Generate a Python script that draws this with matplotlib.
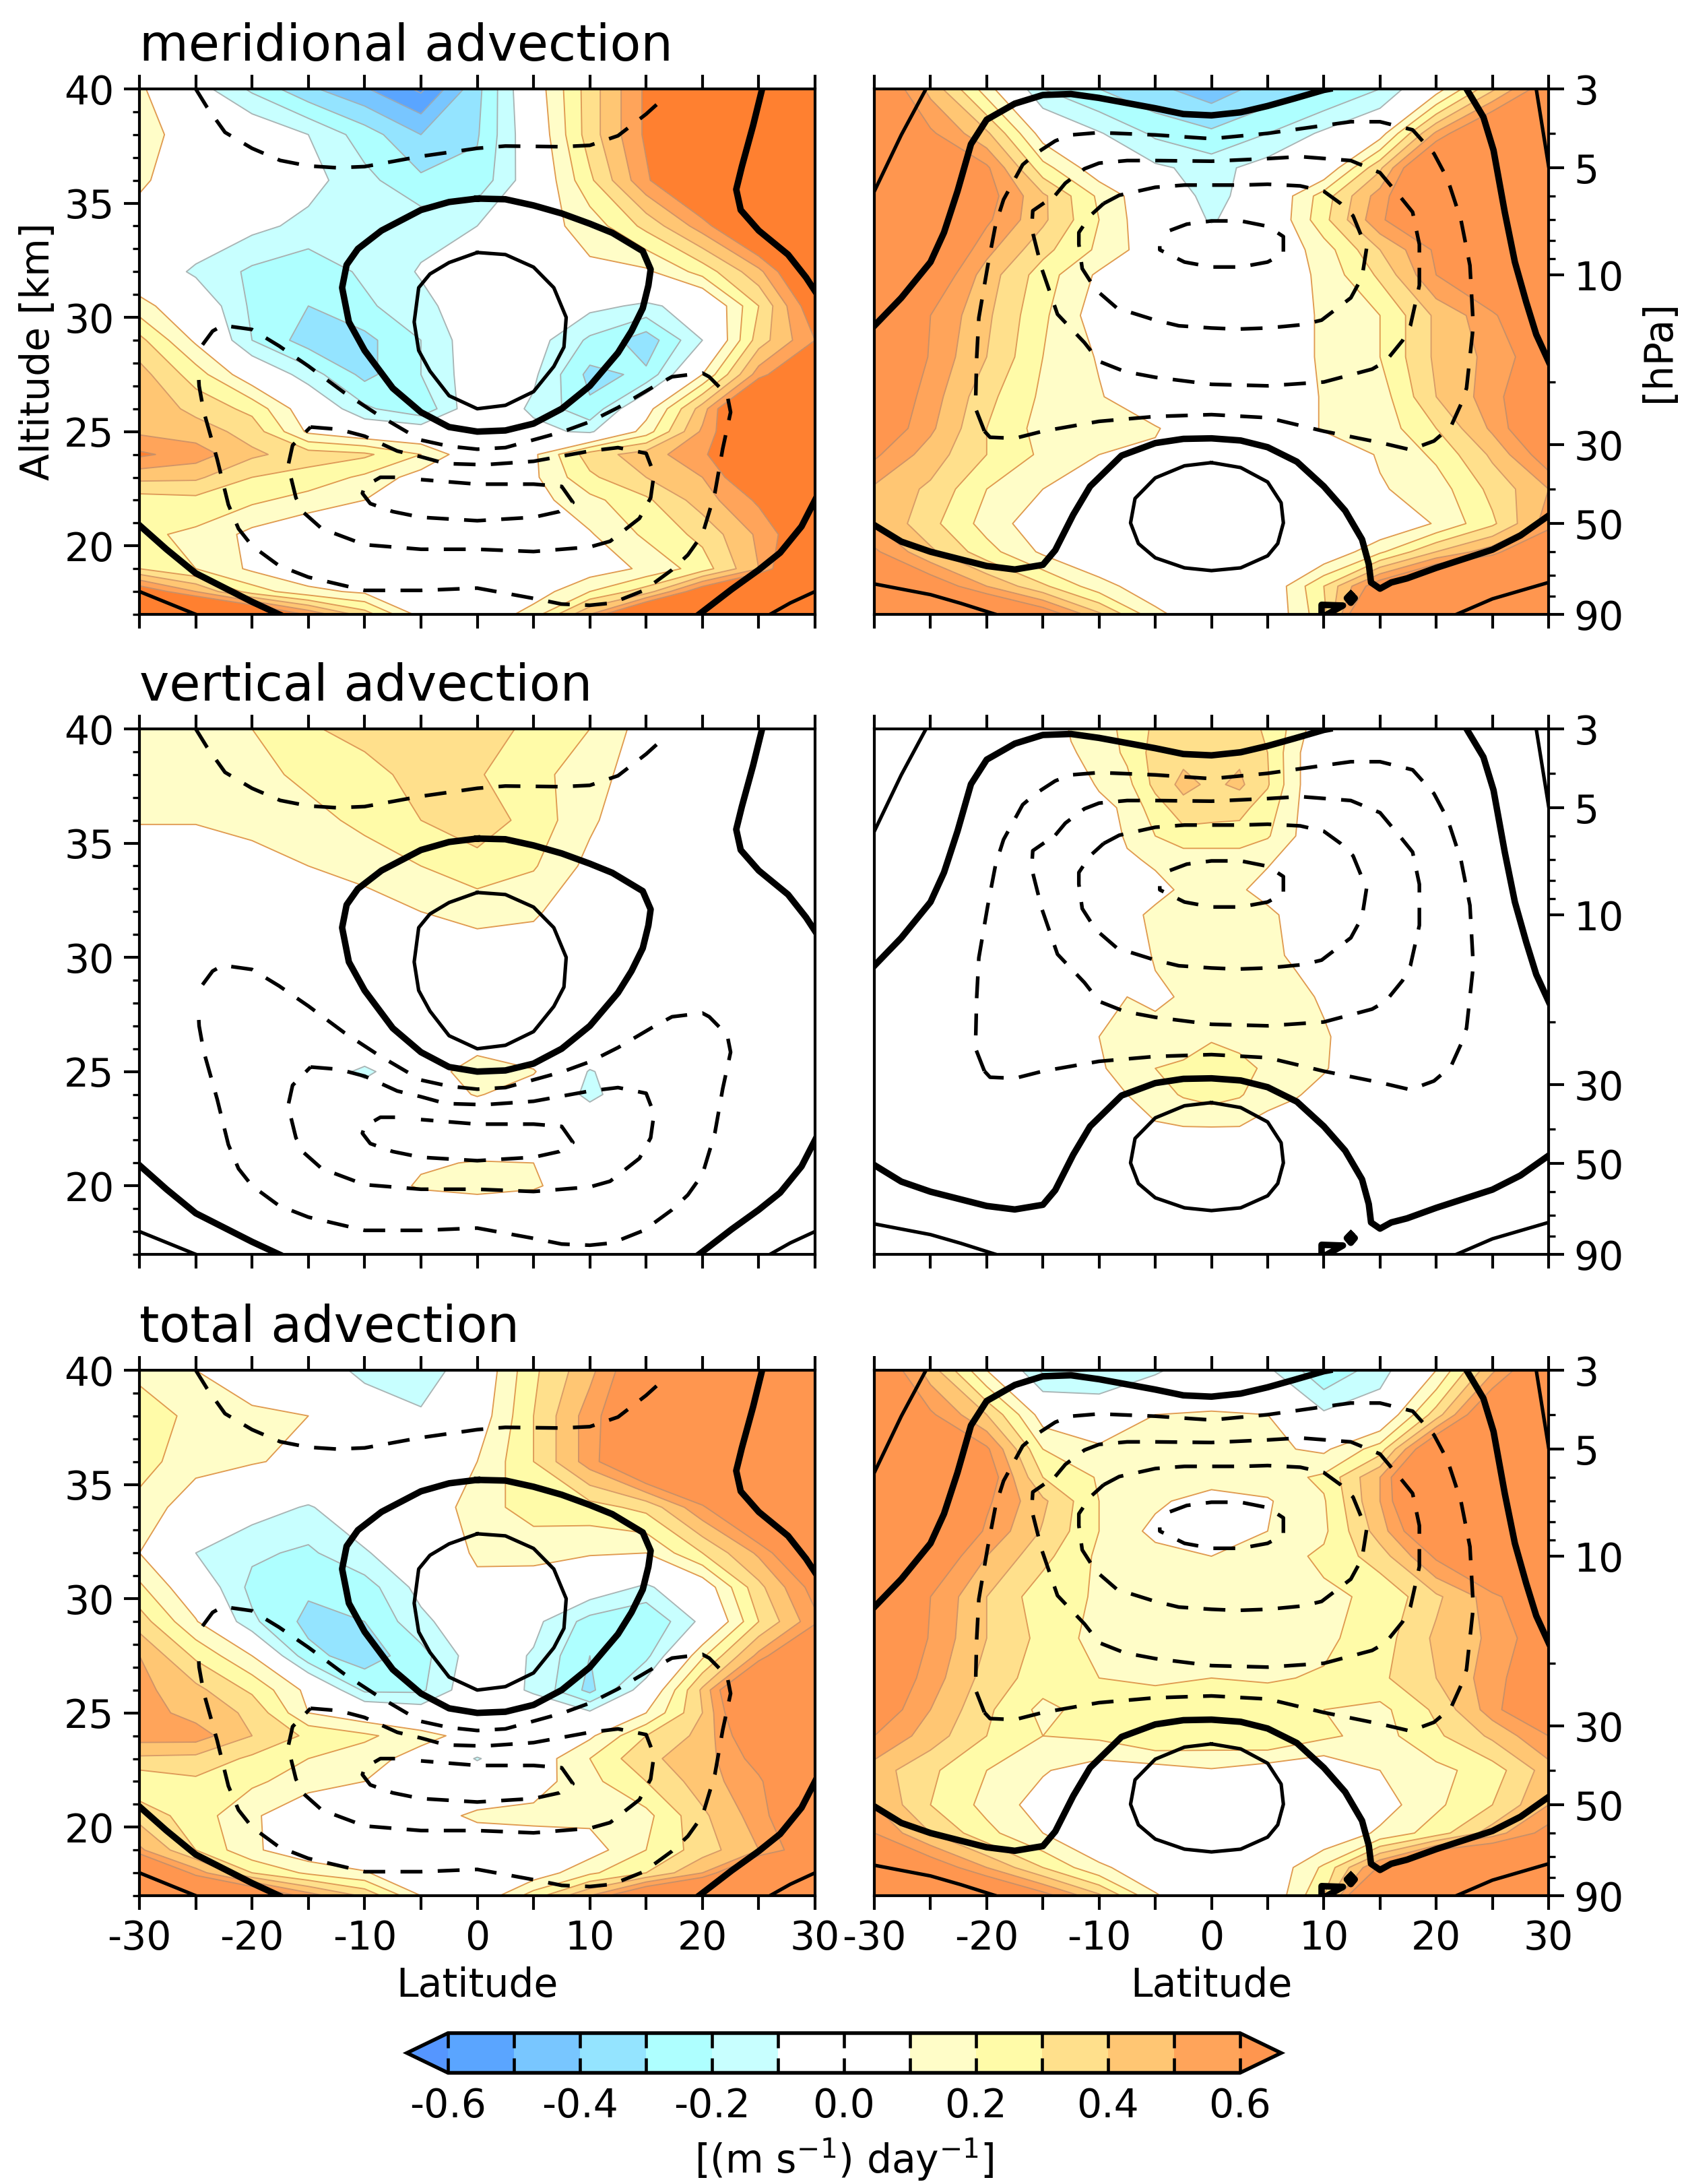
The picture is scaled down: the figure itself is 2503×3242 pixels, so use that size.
# advection terms over latitude, altitude and pressure
import matplotlib
matplotlib.use('Agg')
import matplotlib.pyplot as plt
import numpy as np
from matplotlib.colors import BoundaryNorm, ListedColormap
from matplotlib.ticker import FixedLocator, NullFormatter

plt.rcParams['axes.unicode_minus'] = False
plt.rcParams['axes.linewidth'] = 1.0

lat = [-30, -25, -20, -15, -10, -5, 0, 5, 10, 15, 20, 25, 30]
lat_fine = [-15, -12.5, -10, -7.5, -5, -2.5, 0, 2.5, 5, 7.5, 10, 12.5, 15]

alt_levels = [40, 38, 36, 34, 32, 30.5, 29, 27.5, 26, 25, 24, 23, 22, 20.5, 19, 18, 17]
p_levels = [3, 4, 5, 6, 7, 8.5, 10, 13, 17, 22, 27, 32, 40, 50, 60, 75, 90]
alt_vert = [40, 38, 36, 34, 32, 30.5, 29, 26, 25, 24, 23, 22, 21, 20, 19, 17]
p_vert = [3, 3.5, 4.3, 5, 6, 7, 8.5, 10, 13, 17, 22, 27, 32, 40, 50, 90]

merid_alt = [
    [.12, -.05, -.22, -.38, -.49, -.62, -.33, .03, .35, .62, .9, 1, 1],
    [.14, .05, 0, -.1, -.25, -.4, -.31, 0, .35, .62, .9, 1, 1],
    [.12, .02, 0, -.06, -.17, -.28, -.27, -.02, .28, .58, .85, 1, 1],
    [.05, 0, -.07, -.13, -.14, -.14, -.1, .05, .14, .33, .55, .85, 1],
    [0, -.12, -.22, -.27, -.18, -.09, 0, .03, .08, .08, .24, .47, .85],
    [.14, 0, -.22, -.3, -.22, -.13, -.03, -.02, -.07, -.12, -.05, .3, .7],
    [.33, .08, -.2, -.35, -.33, -.2, -.02, -.05, -.22, -.36, -.1, .35, .6],
    [.44, .25, .02, -.15, -.33, -.2, -.03, -.08, -.33, -.28, .1, .55, .85],
    [.48, .37, .27, .02, -.18, -.28, 0, -.12, -.28, .05, .45, 1, 1],
    [.48, .45, .36, .08, 0, -.02, 0, -.07, -.12, .15, .52, .85, 1],
    [.62, .55, .42, .35, .32, .2, 0, .08, .35, .45, .58, .8, 1],
    [.43, .42, .3, .26, .18, .05, 0, .08, .28, .4, .5, .75, 1],
    [.25, .27, .22, .16, .1, .04, 0, .06, .17, .28, .45, .62, .85],
    [.22, .18, .07, 0, 0, 0, 0, 0, .09, .22, .33, .52, .75],
    [.3, .2, .08, 0, 0, 0, 0, 0, .04, .12, .25, .5, .9],
    [.7, .5, .25, .13, .08, 0, 0, .04, .2, .35, .7, 1, 1],
    [1, 1, .85, .58, .35, .06, 0, .15, .5, .9, 1, 1, 1],
]
merid_p = [
    [.75, .47, .15, -.2, -.3, -.38, -.45, -.36, -.3, -.2, .05, .38, .7],
    [1, .62, .42, .05, -.09, -.22, -.28, -.2, -.08, .05, .52, .85, .9],
    [1, .8, .62, .24, .03, -.08, -.14, -.05, 0, .38, .9, 1, 1],
    [1, .9, .65, .42, .18, 0, -.14, -.02, .25, .55, .85, 1, 1],
    [1, .85, .62, .42, .2, 0, -.11, -.02, .27, .58, .8, 1, 1],
    [1, .8, .53, .33, .18, .03, 0, 0, .15, .4, .62, 1, 1],
    [1, .72, .45, .25, .08, 0, 0, 0, .13, .32, .6, .85, 1],
    [.8, .6, .42, .22, .04, 0, 0, 0, .12, .2, .42, .57, .9],
    [1, .58, .4, .2, .09, 0, 0, 0, .12, .2, .42, .53, .7],
    [.75, .55, .33, .18, .11, 0, 0, 0, .11, .15, .4, .55, .8],
    [.72, .52, .3, .16, .14, .11, 0, 0, .11, .14, .3, .52, .8],
    [.62, .45, .3, .18, .1, .08, 0, 0, .02, .11, .22, .42, .68],
    [.48, .38, .2, .1, 0, 0, 0, 0, 0, .09, .15, .33, .5],
    [.5, .33, .16, .03, 0, 0, 0, 0, 0, 0, .11, .28, .55],
    [.62, .42, .24, .08, 0, 0, 0, 0, 0, .18, .4, .56, .8],
    [1, .7, .5, .32, .14, .03, 0, 0, .3, .7, 1, 1, 1],
    [1, 1, .9, .7, .42, .13, 0, 0, .27, 1, 1, 1, 1],
]
vert_alt = [
    [.14, .15, .2, .29, .33, .35, .34, .28, .2, .05, 0, 0, 0],
    [.13, .13, .16, .23, .27, .33, .31, .23, .15, .03, 0, 0, 0],
    [.11, .11, .14, .16, .23, .3, .36, .26, .12, 0, 0, 0, 0],
    [0, 0, .05, .1, .14, .2, .26, .21, .07, 0, 0, 0, 0],
    [0, 0, 0, 0, .05, .1, .14, .12, 0, 0, 0, 0, 0],
    [0, 0, 0, 0, 0, .03, .06, .05, 0, 0, 0, 0, 0],
    [0, 0, 0, 0, 0, 0, 0, 0, 0, 0, 0, 0, 0],
    [0, 0, 0, 0, 0, .02, .07, .02, 0, 0, 0, 0, 0],
    [0, 0, 0, 0, -.13, .02, .17, .11, -.11, 0, 0, 0, 0],
    [0, 0, 0, 0, -.03, .02, .11, .03, -.13, 0, 0, 0, 0],
    [0, 0, 0, 0, 0, 0, 0, 0, -.04, 0, 0, 0, 0],
    [0, 0, 0, 0, 0, 0, 0, 0, 0, 0, 0, 0, 0],
    [0, 0, 0, 0, 0, .08, .11, .1, 0, 0, 0, 0, 0],
    [0, 0, 0, 0, 0, .12, .16, .12, 0, 0, 0, 0, 0],
    [0, 0, 0, 0, 0, 0, 0, 0, 0, 0, 0, 0, 0],
    [0, 0, 0, 0, 0, 0, 0, 0, 0, 0, 0, 0, 0],
]
vert_p = [
    [0, .11, .15, .23, .32, .36, .37, .36, .28, .16, 0, 0, 0],
    [0, .09, .14, .22, .34, .37, .38, .38, .3, .12, 0, 0, 0],
    [0, 0, .12, .17, .33, .43, .38, .42, .31, .12, 0, 0, 0],
    [0, 0, .05, .13, .25, .36, .34, .33, .25, .11, 0, 0, 0],
    [0, 0, 0, .12, .2, .26, .26, .26, .21, .1, 0, 0, 0],
    [0, 0, 0, .08, .12, .14, .14, .14, .11, .07, 0, 0, 0],
    [0, 0, 0, 0, .06, .12, .14, .11, .07, 0, 0, 0, 0],
    [0, 0, 0, .06, .13, .14, .15, .14, .12, .07, 0, 0, 0],
    [0, 0, 0, .04, .11, .13, .14, .14, .13, .08, 0, 0, 0],
    [0, 0, 0, .1, .08, .11, .13, .13, .13, .14, .08, 0, 0],
    [0, 0, .1, .13, .14, .15, .19, .15, .14, .13, .12, .04, 0],
    [0, 0, .09, .13, .2, .22, .25, .25, .17, .13, .11, .05, 0],
    [0, 0, .02, .1, .16, .21, .24, .21, .14, .11, .06, 0, 0],
    [0, 0, 0, .01, .08, .09, .09, .09, .05, .02, 0, 0, 0],
    [0, 0, 0, 0, 0, 0, 0, 0, 0, 0, 0, 0, 0],
    [0, 0, 0, 0, 0, 0, 0, 0, 0, 0, 0, 0, 0],
]
total_alt = [
    [.18, .1, 0, 0, -.14, -.18, 0, .28, .47, .75, .9, 1, 1],
    [.24, .18, .13, .1, 0, -.08, .03, .3, .55, .8, 1, 1, 1],
    [.24, .14, .11, .07, 0, 0, .1, .3, .55, .85, 1, 1, 1],
    [.17, .03, -.05, -.11, -.02, .02, .15, .25, .26, .33, .58, .9, 1],
    [.1, -.1, -.18, -.22, -.11, -.02, .12, .13, .11, .1, .3, .52, .85],
    [.22, 0, -.23, -.28, -.25, -.06, .07, .05, -.02, -.12, .02, .37, .65],
    [.35, .11, -.18, -.33, -.3, -.13, 0, -.07, -.24, -.3, -.07, .3, .57],
    [.5, .28, .1, -.27, -.35, -.24, -.03, -.11, -.3, -.23, .18, .53, .95],
    [.53, .43, .28, .07, -.22, -.22, 0, -.12, -.33, -.03, .42, 1, 1],
    [.55, .46, .38, .1, .02, -.03, .05, 0, -.08, .1, .4, .9, 1],
    [.55, .55, .4, .28, .22, .14, .05, 0, .08, .3, .43, .75, 1],
    [.38, .37, .28, .2, .15, .05, -.11, .03, .2, .38, .45, .65, .85],
    [.22, .28, .22, .15, .1, 0, 0, .05, .17, .3, .45, .58, .85],
    [.36, .25, .12, 0, 0, .05, .12, .13, .13, .17, .38, .55, .82],
    [.52, .3, .12, .02, 0, 0, .02, .03, .05, .2, .35, .5, .72],
    [1, .55, .3, .18, .11, 0, 0, .03, .18, .3, .5, .9, 1],
    [1, 1, .8, .55, .38, .1, 0, .25, .5, .8, 1, 1, 1],
]
total_p = [
    [.75, .45, .1, -.22, -.2, -.12, 0, -.08, -.28, -.15, .1, .48, .8],
    [1, .62, .4, .05, 0, .1, .11, .1, -.08, -.02, .35, .8, 1],
    [1, .85, .62, .2, .12, .19, .15, .12, .08, .25, .8, 1, 1],
    [1, .85, .68, .3, .19, .15, .15, .15, .22, .5, 1, 1, 1],
    [1, .85, .62, .42, .2, .12, .05, .09, .19, .5, .95, 1, 1],
    [1, .85, .58, .39, .2, .07, 0, .1, .18, .45, .8, 1, 1],
    [1, .72, .5, .33, .18, .14, .1, .15, .22, .35, .62, 1, 1],
    [.95, .6, .4, .24, .19, .15, .14, .15, .18, .22, .38, .55, .85],
    [1, .58, .4, .27, .16, .13, .12, .13, .18, .25, .42, .52, .7],
    [.75, .55, .36, .25, .2, .18, .2, .19, .21, .28, .4, .55, .75],
    [.7, .5, .32, .17, .25, .27, .27, .26, .2, .17, .32, .55, .85],
    [.6, .45, .3, .2, .22, .3, .27, .3, .22, .16, .28, .42, .6],
    [.45, .32, .2, .11, .04, .05, .09, .04, 0, .1, .17, .25, .45],
    [.5, .3, .17, .05, 0, 0, 0, 0, 0, .05, .18, .3, .5],
    [.6, .4, .23, .1, 0, 0, 0, 0, 0, .12, .25, .45, .65],
    [1, .7, .5, .3, .12, .03, 0, 0, .22, .62, 1, 1, 1],
    [1, 1, .85, .65, .42, .11, 0, 0, .3, 1, 1, 1, 1],
]

# zonal wind contours read as (latitude, altitude)
jet_zero_alt = [(0, 35.2), (2.5, 35.17), (5, 34.9), (7.5, 34.55), (10, 34.1), (12, 33.7), (14.7, 32.9), (15.4, 32.1),
                (15.2, 31.4), (14.7, 30.4), (13.7, 29.4), (12.5, 28.45), (10, 27), (7.5, 26), (5, 25.35), (2.5, 25.05),
                (0, 25), (-2.5, 25.2), (-5, 25.85), (-7.5, 26.9), (-10, 28.55), (-11.4, 29.8), (-12, 31.3),
                (-11.6, 32.3), (-10.6, 33), (-8.5, 33.8), (-5, 34.7), (-2.5, 35.05), (0, 35.2)]
ll_zero_alt = [(-30, 20.9), (-27.6, 19.85), (-25, 18.8), (-20, 17.55), (-17.6, 17)]
lr_zero_alt = [(19.7, 17), (22.6, 18.1), (25, 18.95), (26.9, 19.7), (28.8, 20.85), (30, 22)]
ur_zero_alt = [(25.3, 40), (24.5, 38.4), (23.5, 36.6), (23, 35.6), (23.4, 34.7), (25, 33.8), (27.6, 32.75),
               (29.2, 31.75), (30, 31.15)]
jet_pos_alt = [(0, 32.84), (2.5, 32.75), (5, 32.2), (6.8, 31.3), (7.9, 30), (7.7, 28.7), (6.8, 27.85), (5, 26.75),
               (2.5, 26.15), (0, 26), (-2.5, 26.57), (-4.2, 27.65), (-5.2, 28.55), (-5.6, 29.8), (-5.2, 31.3),
               (-4.2, 31.9), (-2.5, 32.4), (0, 32.84)]
ll_pos_alt = [(-30, 18), (-25, 17)]
lr_pos_alt = [(26, 17), (27.8, 17.5), (30, 18)]
top_neg_alt = [(-25, 40), (-24, 39.2), (-22.4, 38.1), (-20, 37.4), (-17.5, 36.87), (-15, 36.63), (-12.5, 36.55),
               (-10, 36.6), (-5, 37.05), (0, 37.4), (2.5, 37.5), (7.5, 37.47), (10, 37.53), (12.5, 37.95), (15, 38.9),
               (16.8, 39.7)]
neg1_alt = [(-24.4, 28.8), (-23.5, 29.4), (-22.6, 29.65), (-20, 29.47), (-17.6, 28.75), (-15, 27.87), (-11.8, 26.7),
            (-8.7, 25.7), (-5, 24.63), (-2.5, 24.36), (0, 24.23), (2.5, 24.3), (7.5, 24.98), (10, 25.43),
            (12.5, 26.05), (15.6, 26.95), (17.3, 27.4), (20, 27.56), (20.6, 27.4), (22.2, 26.6), (22.5, 25.85),
            (21.8, 24.25), (21.1, 22.3), (20, 20.5), (18.7, 19.6), (17.3, 18.95), (14.8, 18.05), (12, 17.5),
            (10, 17.4), (7.5, 17.45), (5, 17.7), (0, 18.15), (-5, 18.05), (-10, 18.05), (-15, 18.63), (-17.6, 19.13),
            (-20, 20), (-21.2, 20.75), (-22.1, 21.8), (-23.1, 23.8), (-24.3, 25.9), (-24.7, 27), (-24.8, 27.85)]
neg2_alt = [(-14.8, 25.2), (-12.3, 25.1), (-10, 24.8), (-7.1, 24.15), (-5, 23.9), (-2.8, 23.6), (0.6, 23.55), (5, 23.7),
            (10, 24.15), (12.5, 24.3), (15, 24.05), (15.7, 23.15), (15.4, 22.1), (14.4, 21.2), (11.8, 20.2),
            (10, 19.95), (5, 19.75), (0, 19.85), (-5, 19.85), (-10, 20.05), (-13.8, 20.75), (-15.4, 21.45),
            (-16.1, 22.1), (-16.8, 23.5), (-16.4, 24.4), (-14.8, 25.2)]
neg3_alt = [(-7.3, 23), (-8.6, 23), (-10, 22.6), (-10.2, 22.3), (-9.5, 21.85), (-7.5, 21.5), (-5, 21.25), (0, 21.1),
            (5, 21.25), (7.3, 21.5), (8.5, 21.9), (7.5, 22.6), (5, 22.7), (0, 22.7), (-5, 22.9)]

# same wind as (latitude, pressure)
top_zero_p = [(-30, 13.9), (-27.6, 11.6), (-25, 9.2), (-23.8, 7.6), (-22.6, 5.82), (-21.4, 4.29), (-20, 3.66),
              (-17.5, 3.3), (-15, 3.12), (-12.5, 3.1), (-10, 3.18), (-5, 3.4), (-2.5, 3.53), (0, 3.56), (2.6, 3.49),
              (5, 3.35), (7.4, 3.19), (10, 3.02), (10.5, 3)]
ur_zero_p = [(22.7, 3), (24.2, 3.6), (25.1, 4.46), (26.1, 6.66), (27, 9.2), (28, 11.9), (28.9, 14.7), (30, 17.5)]
low_zero_p = [(-30, 50.5), (-27.6, 56.2), (-25, 60), (-20, 65.8), (-17.5, 67.3), (-15, 65.3), (-13.9, 59.4),
              (-12.3, 47.2), (-10.8, 39.3), (-8, 32.2), (-5, 29.7), (-2.5, 28.9), (0, 28.8), (2.6, 29.2), (5, 30.5),
              (7.6, 33.5), (10, 39.3), (11.9, 46), (13.4, 55.4), (14, 65), (14.2, 73.2), (15, 76.2), (16, 73.2),
              (17.4, 71.3), (20, 66.6), (25, 59.2), (27.5, 54), (30, 47.5)]
scrap_zero_p = [(9.8, 90), (9.8, 84.6), (11.7, 85), (10.3, 90)]
diamond_zero_p = [(12.4, 79), (12.75, 81), (12.4, 83.5), (12.05, 81), (12.4, 79)]
ul_pos_p = [(-30, 5.82), (-27.6, 4.04), (-25.4, 3)]
ur_pos_p = [(28.9, 3), (30, 4.94)]
ll_pos_p = [(-30, 73.9), (-25, 79.2), (-22.3, 83.8), (-19.2, 90)]
lr_pos_p = [(21.8, 90), (25, 81.4), (30, 73.2)]
core_pos_p = [(0, 33.7), (2.6, 34.8), (5, 38.2), (6.2, 43.7), (6.4, 49.8), (5.9, 56.9), (5, 61.6), (2.6, 66.6),
              (0, 67.8), (-2.4, 66.6), (-5, 62.4), (-6.5, 56.9), (-7.2, 49.8), (-6.8, 42.5), (-5, 37.2), (-2.4, 34.4),
              (0, 33.7)]
neg1_p = [(-20.2, 27.5), (-19.7, 28.6), (-17.5, 28.8), (-15, 27.5), (-10, 25.8), (-5, 25), (0, 24.7), (5, 25.2),
          (10, 27.5), (15, 29.6), (17.7, 31), (19.8, 29.3), (21.3, 26.7), (22.2, 23.1), (22.7, 20.8), (23.3, 13.9),
          (23, 9.4), (22.2, 7), (21, 5.37), (19.8, 4.56), (17.9, 3.91), (15, 3.71), (12.4, 3.71), (10, 3.8), (5, 4),
          (0, 4.14), (-5, 4.04), (-10, 3.98), (-12.5, 4.04), (-13.9, 4.2), (-15.6, 4.55), (-16.8, 4.9), (-18.5, 6.14),
          (-19.2, 7.2), (-19.9, 9.4), (-20.7, 13.2), (-20.9, 17.3), (-21, 23.7), (-20.2, 27.5)]
neg2_p = [(-13.9, 5.97), (-13, 5.52), (-11.3, 5.03), (-10, 4.85), (-7.5, 4.77), (-5, 4.77), (0, 4.79), (5, 4.71),
          (7.9, 4.65), (12.4, 4.77), (15, 5.16), (17, 6.14), (17.9, 6.66), (18.5, 8.2), (18.5, 10.7), (17.7, 13.9),
          (17, 15.3), (15.5, 17.5), (14.3, 18.4), (10, 20), (5, 20.5), (0, 20.3), (-5, 19.4), (-7.7, 18.7), (-10, 17.5),
          (-11.3, 15.5), (-13.7, 12.9), (-15.1, 9.6), (-16, 7.4), (-15.9, 6.6), (-13.9, 5.97)]
neg3_p = [(-9.6, 6.3), (-8.2, 5.97), (-5, 5.67), (-2.4, 5.59), (2.6, 5.59), (5, 5.56), (7.9, 5.62), (10, 5.82),
          (11.5, 6.3), (12.6, 6.82), (13.8, 8.43), (13.4, 10.15), (12.4, 11.6), (9.8, 13.4), (8.1, 13.8), (5, 14.1),
          (2.3, 14.2), (0, 14.1), (-2.9, 13.9), (-5, 13.4), (-8.4, 12.4), (-10.3, 11), (-11.5, 9.6), (-11.8, 8.2),
          (-11.8, 7.6), (-10.8, 6.82), (-9.6, 6.3)]
neg4_p = [(-3.7, 7.5), (-2.2, 7.2), (0, 7.05), (2.6, 7.05), (5, 7.3), (6.4, 7.8), (6.4, 8.7), (5, 9.2), (2.6, 9.5),
          (0, 9.5), (-2.4, 9.2), (-4.6, 8.5), (-4.6, 8.3)]

fill_levels = [-.6, -.5, -.4, -.3, -.2, -.1, 0, .1, .2, .3, .4, .5, .6]
fill_colors = ['#5AA5FF', '#78C6FF', '#94E4FF', '#AEFFFF', '#C8FFFF', '#FFFFFF', '#FFFFFF',
               '#FFFDC8', '#FFFBA8', '#FFE08C', '#FFC673', '#FFA45A']
edge_levels = [-.6, -.5, -.4, -.3, -.2, -.1, .1, .2, .3, .4, .5, .6]
edge_colors = ['#98A8B8', '#98A8B8', '#A0B0B8', '#A8B0B0', '#A8B0B0', '#A8B4B4',
               '#E09A50', '#E09A50', '#DE9A58', '#D89C68', '#D09468', '#C89068']
cbar_ticks = [-.6, -.4, -.2, 0, .2, .4, .6]
lat_ticks = [-30, -20, -10, 0, 10, 20, 30]
lat_minor = [-30, -25, -20, -15, -10, -5, 0, 5, 10, 15, 20, 25, 30]
alt_ticks = [20, 25, 30, 35, 40]
alt_minor = list(range(17, 41))
p_ticks = [3, 5, 10, 30, 50, 90]
p_minor = [4, 6, 7, 8, 9, 20, 40, 60, 70, 80]
titles = ['meridional advection', 'vertical advection', 'total advection']

W, H = 2503, 3242
fig = plt.figure(figsize=(W / 300, H / 300), dpi=300)


def make_cmap(under, over):
    cm = ListedColormap(fill_colors)
    cm.set_under(under)
    cm.set_over(over)
    return cm


def wind_line(ax, pts, kind):
    xs = [p[0] for p in pts]
    ys = [p[1] for p in pts]
    if kind == 'zero':
        ax.plot(xs, ys, color='k', lw=2.3, solid_joinstyle='round', zorder=5)
    elif kind == 'pos':
        ax.plot(xs, ys, color='k', lw=1.25, zorder=5)
    else:
        ax.plot(xs, ys, color='k', lw=1.3, ls=(0, (6, 4.2)), zorder=5)


rows_top = [132, 1082, 2034]
row_h = 780
col_left = [207, 1298]
col_w = [1003, 1001]
panels = [
    [(lat, alt_levels, merid_alt), (lat, p_levels, merid_p)],
    [(lat, alt_vert, vert_alt), (lat_fine, p_vert, vert_p)],
    [(lat, alt_levels, total_alt), (lat, p_levels, total_p)],
]
norm = BoundaryNorm(fill_levels, ncolors=len(fill_colors))
last_cf = None

for r in range(3):
    for c in range(2):
        ax = fig.add_axes([col_left[c] / W, 1 - (rows_top[r] + row_h) / H, col_w[c] / W, row_h / H])
        xs, ys, field = panels[r][c]
        field = np.array(field, dtype=float)
        if c == 1:
            ax.set_yscale('log')
        if r == 0 and c == 0:
            cmap = make_cmap('#3F8FFF', '#FF8030')
        else:
            cmap = make_cmap('#5596FF', '#FF964F')
        cf = ax.contourf(xs, ys, field, levels=fill_levels, cmap=cmap, norm=norm, extend='both')
        ax.contour(xs, ys, field, levels=edge_levels, colors=edge_colors, linewidths=0.45)
        if r == 2 and c == 1:
            last_cf = cf

        if c == 0:
            for pts in [jet_zero_alt, ll_zero_alt, lr_zero_alt, ur_zero_alt]:
                wind_line(ax, pts, 'zero')
            for pts in [jet_pos_alt, ll_pos_alt, lr_pos_alt]:
                wind_line(ax, pts, 'pos')
            for pts in [top_neg_alt, neg1_alt, neg2_alt, neg3_alt]:
                wind_line(ax, pts, 'neg')
            ax.set_ylim(17, 40)
            ax.yaxis.set_major_locator(FixedLocator(alt_ticks))
            ax.yaxis.set_minor_locator(FixedLocator(alt_minor))
            ax.tick_params(axis='y', which='major', left=True, right=False, length=5.5, width=1.0, labelsize=14)
            ax.tick_params(axis='y', which='minor', left=True, right=False, length=2.5, width=0.8)
        else:
            for pts in [top_zero_p, ur_zero_p, low_zero_p, scrap_zero_p, diamond_zero_p]:
                wind_line(ax, pts, 'zero')
            for pts in [ul_pos_p, ur_pos_p, ll_pos_p, lr_pos_p, core_pos_p]:
                wind_line(ax, pts, 'pos')
            for pts in [neg1_p, neg2_p, neg3_p, neg4_p]:
                wind_line(ax, pts, 'neg')
            ax.set_ylim(90, 3)
            ax.yaxis.set_major_locator(FixedLocator(p_ticks))
            ax.yaxis.set_minor_locator(FixedLocator(p_minor))
            ax.yaxis.set_major_formatter(plt.FuncFormatter(lambda v, pos: '%d' % v))
            ax.yaxis.set_minor_formatter(NullFormatter())
            ax.yaxis.tick_right()
            ax.tick_params(axis='y', which='major', left=False, right=True, length=5.5, width=1.0, labelsize=14)
            ax.tick_params(axis='y', which='minor', left=False, right=True, length=2.5, width=0.8)

        ax.set_xlim(-30, 30)
        ax.xaxis.set_major_locator(FixedLocator(lat_ticks))
        ax.xaxis.set_minor_locator(FixedLocator(lat_minor))
        ax.tick_params(axis='x', which='both', top=True, bottom=True, length=5, width=1.0, labelsize=14)
        if r == 2:
            ax.set_xlabel('Latitude', fontsize=14, labelpad=3)
        else:
            ax.set_xticklabels([])
        if c == 0:
            ax.set_title(titles[r], loc='left', fontsize=18, pad=10)
        if r == 0 and c == 0:
            ax.set_ylabel('Altitude [km]', fontsize=14, labelpad=2.5)
        if r == 0 and c == 1:
            ax.yaxis.set_label_position('right')
            ax.set_ylabel('[hPa]', fontsize=14, labelpad=5.5)

# the colorbar axes has to hold the two tips as well
cax = fig.add_axes([604 / W, 1 - 3077 / H, 1298 / W, 59 / H])
cb = fig.colorbar(last_cf, cax=cax, orientation='horizontal', extend='both', extendfrac=0.052, spacing='proportional')
cb.set_ticks(cbar_ticks)
cb.set_ticklabels(['-0.6', '-0.4', '-0.2', '0.0', '0.2', '0.4', '0.6'])
cb.ax.xaxis.set_minor_locator(FixedLocator(fill_levels))
cb.ax.tick_params(axis='x', which='both', direction='in', top=True, bottom=True, length=5.3, width=1.1, labelsize=14,
                  color='k', pad=5)
cb.outline.set_linewidth(1.3)
cb.set_label('[(m s$^{-1}$) day$^{-1}$]', fontsize=14, labelpad=4)

fig.savefig('out.png', dpi=300)
